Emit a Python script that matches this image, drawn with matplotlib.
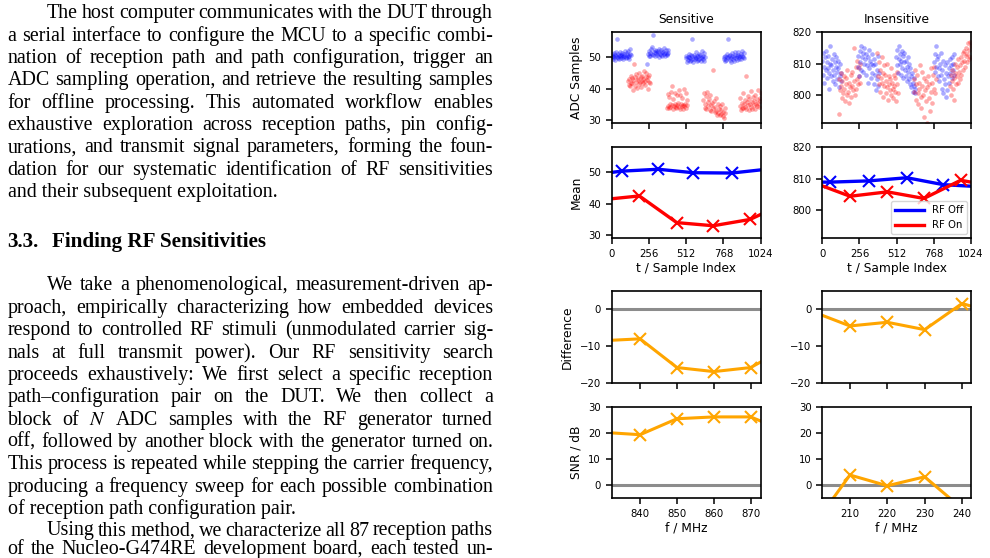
import numpy as np
import matplotlib.pyplot as plt
from matplotlib.lines import Line2D

W, H = 990, 558

# ---------------- page text (left column) ----------------
para1 = [
    "The host computer communicates with the DUT through",
    "a serial interface to configure the MCU to a specific combi-",
    "nation of reception path and path configuration, trigger an",
    "ADC sampling operation, and retrieve the resulting samples",
    "for offline processing. This automated workflow enables",
    "exhaustive exploration across reception paths, pin config-",
    "urations, and transmit signal parameters, forming the foun-",
    "dation for our systematic identification of RF sensitivities",
    "and their subsequent exploitation.",
]
heading = ["3.3.", "Finding RF Sensitivities"]
para2 = [
    "We take a phenomenological, measurement-driven ap-",
    "proach, empirically characterizing how embedded devices",
    "respond to controlled RF stimuli (unmodulated carrier sig-",
    "nals at full transmit power). Our RF sensitivity search",
    "proceeds exhaustively: We first select a specific reception",
    "path\u2013configuration pair on the DUT. We then collect a",
    "block of $N$ ADC samples with the RF generator turned",
    "off, followed by another block with the generator turned on.",
    "This process is repeated while stepping the carrier frequency,",
    "producing a frequency sweep for each possible combination",
    "of reception path configuration pair.",
]
para3 = [
    "Using this method, we characterize all 87 reception paths",
    "of the Nucleo-G474RE development board, each tested un-",
]

# ---------------- raw ADC samples, one list per block ----------------
off_spans = [(0, 130), (245, 390), (510, 640), (770, 910)]
on_spans = [(113, 263), (380, 520), (630, 780), (880, 1024)]

sens_off_blocks = [
    [50.2, 51.0, 49.6, 50.5, 51.3, 50.0, 49.3, 50.8, 51.6, 50.4, 56.0, 50.1, 49.8,
     51.2, 50.6, 49.5, 50.9, 51.8, 50.3, 49.9, 50.7, 51.4, 50.0, 49.4, 51.1, 50.5,
     52.0, 50.2, 49.7, 51.5, 50.8, 50.1, 51.9, 50.4, 49.6, 51.2, 52.6, 50.9],
    [48.0, 51.2, 50.6, 52.0, 51.5, 50.3, 52.8, 51.0, 53.2, 57.0, 50.9, 51.7, 52.4,
     50.5, 51.3, 52.1, 50.8, 51.9, 51.4, 50.2, 52.6, 51.1, 50.7, 52.3, 51.6, 50.4,
     51.8, 52.9, 51.2, 50.6, 51.5, 52.2, 50.9, 51.0, 52.5, 51.3],
    [49.8, 50.5, 48.6, 50.1, 49.3, 51.2, 50.0, 48.9, 49.7, 50.8, 49.2, 50.4, 56.0,
     49.6, 48.4, 50.9, 50.2, 49.5, 51.6, 49.9, 48.8, 50.6, 49.1, 50.3, 51.0, 49.4,
     50.7, 48.7, 49.9, 51.9, 50.2, 49.6, 50.5, 49.0, 51.3, 50.1],
    [49.5, 50.2, 48.8, 50.6, 49.1, 50.0, 51.0, 49.7, 56.0, 50.4, 49.3, 50.8, 48.6,
     49.9, 50.5, 51.3, 49.4, 50.1, 49.0, 50.7, 51.6, 49.8, 50.3, 49.2, 50.9, 51.8,
     50.0, 49.6, 50.4, 51.2, 49.5, 50.6, 52.0, 50.1, 49.9, 51.4],
]
sens_on_blocks = [
    [42.5, 43.1, 41.2, 40.8, 42.0, 44.0, 43.4, 41.7, 39.6, 42.8, 48.0, 43.7, 41.0,
     42.3, 44.6, 40.2, 42.9, 43.3, 41.5, 45.1, 42.1, 43.8, 40.6, 42.6, 44.2, 41.9,
     43.0, 45.8, 42.4, 41.3, 43.6, 44.9, 42.7, 40.0, 43.9, 42.2, 44.4, 41.8],
    [34.0, 38.2, 34.6, 33.8, 37.5, 35.0, 34.3, 39.1, 34.8, 41.0, 33.6, 36.8, 34.5,
     35.2, 38.6, 34.1, 33.9, 37.9, 34.7, 35.4, 39.6, 34.2, 33.7, 38.0, 35.1, 34.4,
     37.2, 34.9, 33.5, 39.9, 34.6, 35.3, 38.8, 34.0, 36.5, 34.8],
    [36.5, 38.8, 35.2, 34.0, 37.6, 33.5, 39.0, 35.8, 34.4, 36.9, 33.1, 38.1, 34.8,
     32.9, 35.5, 46.0, 33.8, 36.2, 32.5, 34.2, 37.0, 33.0, 31.8, 35.0, 32.4, 33.6,
     31.5, 34.6, 32.0, 33.2, 35.3, 31.2, 32.7, 30.8, 33.9, 32.2],
    [34.5, 37.0, 33.2, 35.6, 34.0, 38.5, 33.8, 35.1, 36.4, 34.3, 44.0, 33.5, 35.9,
     37.8, 34.7, 33.1, 36.8, 35.3, 34.1, 39.2, 33.7, 35.7, 37.4, 34.9, 36.0, 33.4,
     38.0, 35.0, 34.4, 36.6, 39.6, 35.5, 34.2, 37.2, 36.1, 38.6],
]
insens_off_blocks = [
    [811.0, 806.5, 813.5, 809.0, 804.0, 812.0, 808.0, 814.0, 810.5, 805.5, 808.5, 812.5,
     807.0, 802.0, 810.0, 815.5, 806.0, 809.5, 811.5, 804.5, 808.0, 813.0, 806.5, 810.5,
     803.5, 809.0, 812.0, 807.5, 805.0, 811.0, 808.5, 802.5, 806.0, 810.0, 804.5, 807.0],
    [809.0, 812.5, 806.0, 814.0, 810.5, 808.0, 815.5, 812.0, 807.5, 813.5, 810.0, 815.0,
     811.5, 806.5, 813.0, 809.5, 804.0, 812.0, 814.5, 808.5, 811.0, 805.5, 810.0, 813.0,
     807.0, 809.5, 803.5, 811.5, 806.5, 810.0, 801.5, 808.0, 805.0, 812.5, 803.0, 807.0],
    [812.0, 809.5, 814.5, 807.0, 811.5, 815.5, 810.0, 813.0, 806.5, 811.0, 814.0, 808.5,
     812.5, 805.5, 810.5, 813.5, 808.0, 806.0, 811.0, 809.0, 804.5, 812.0, 807.5, 805.0,
     810.0, 803.5, 808.5, 806.0, 802.5, 807.0, 804.0, 801.0, 805.5, 803.0, 800.5, 802.0],
    [810.5, 813.0, 807.5, 815.5, 809.0, 811.5, 806.0, 812.5, 808.5, 804.5, 810.0, 813.5,
     806.5, 802.0, 808.0, 811.0, 800.5, 805.0, 809.5, 803.5, 799.5, 807.0, 810.5, 801.5,
     806.0, 808.5, 804.0, 811.5, 807.0, 809.5, 812.0, 805.5, 810.0, 808.0, 813.0, 806.5],
]
insens_on_blocks = [
    [794.0, 805.0, 801.5, 807.0, 803.0, 799.0, 804.5, 800.5, 806.0, 802.0, 798.0, 805.5,
     803.5, 800.0, 808.0, 801.0, 797.5, 804.0, 802.5, 806.5, 799.5, 803.0, 807.5, 801.5,
     815.0, 804.5, 800.0, 809.0, 802.0, 805.0, 811.0, 803.5, 806.0, 808.5, 804.0, 810.0],
    [813.5, 806.0, 810.5, 803.5, 808.0, 801.0, 805.5, 812.0, 804.0, 799.5, 807.0, 803.0,
     809.5, 806.5, 800.5, 804.5, 810.0, 802.5, 798.5, 806.0, 803.5, 801.5, 805.0, 808.5,
     800.0, 804.0, 802.0, 799.0, 806.5, 803.0, 801.0, 805.5, 798.0, 803.5, 807.5, 800.5],
    [805.0, 801.0, 808.0, 803.5, 798.5, 806.5, 800.5, 797.0, 804.0, 802.0, 809.5, 799.5,
     796.0, 803.0, 807.5, 800.0, 793.0, 805.5, 801.5, 798.0, 804.5, 791.0, 802.5, 806.0,
     799.0, 803.5, 795.0, 808.5, 801.0, 804.0, 797.5, 806.5, 802.0, 809.0, 800.5, 805.0],
    [803.0, 806.5, 800.0, 804.5, 808.0, 802.0, 805.5, 798.5, 807.0, 810.0, 803.5, 806.0,
     809.0, 804.0, 811.5, 807.5, 805.0, 809.5, 812.0, 806.5, 810.5, 808.0, 813.5, 811.0,
     814.0, 809.0, 812.5, 815.0, 810.5, 813.0, 816.5, 811.5, 814.5, 812.0, 817.0, 815.5],
]

# ---------------- block means ----------------
sens_off_t = [0, 68, 320, 561, 825, 1024]
sens_off_mean = [50.0, 50.4, 51.0, 49.9, 49.8, 50.8]
sens_on_t = [0, 190, 447, 698, 950, 1024]
sens_on_mean = [41.6, 42.5, 34.0, 33.0, 35.0, 36.6]
insens_off_t = [0, 53, 322, 582, 833, 1024]
insens_off_mean = [808.9, 808.9, 809.3, 810.3, 808.1, 807.6]
insens_on_t = [0, 191, 448, 700, 953, 1024]
insens_on_mean = [807.7, 804.4, 805.8, 803.7, 809.5, 808.9]

# ---------------- frequency sweeps ----------------
sens_freq = [830, 840, 850, 860, 870, 880]
sens_diff = [-8.5, -8.0, -15.8, -16.9, -15.8, -10.2]
sens_snr = [20.2, 19.3, 25.4, 26.1, 26.1, 20.2]
insens_freq = [200, 210, 220, 230, 240, 250]
insens_diff = [-0.6, -4.5, -3.5, -5.5, 1.6, -1.3]
insens_snr = [-15.9, 3.9, -0.2, 3.2, -8.9, -12.0]

plt.rcParams.update({
    "font.family": "DejaVu Sans",
    "font.size": 7.3,
    "axes.labelsize": 8.8,
    "axes.titlesize": 8.8,
    "axes.linewidth": 1.2,
    "xtick.major.size": 4.2,
    "ytick.major.size": 4.2,
    "xtick.major.width": 1.1,
    "ytick.major.width": 1.1,
    "mathtext.fontset": "stix",
})

fig = plt.figure(figsize=(W / 100, H / 100), dpi=100)
renderer = fig.canvas.get_renderer()

SERIF = "Liberation Serif"
BODY = 14.4
LEFT, RIGHT, INDENT = 7.5, 493.0, 39.0
LEAD = 22.35


def fx(x):
    return x / W


def fy(y):
    return 1 - y / H


def text_line(line, y, x0, justify, **kw):
    words = line.split(" ")
    if not justify or len(words) == 1:
        fig.text(fx(x0), fy(y), line, va="baseline", ha="left", **kw)
        return
    objs = [fig.text(0, 0, w, va="baseline", ha="left", **kw) for w in words]
    widths = [o.get_window_extent(renderer).width for o in objs]
    gap = (RIGHT - x0 - sum(widths)) / (len(words) - 1)
    x = x0
    for o, w in zip(objs, widths):
        o.set_position((fx(x), fy(y)))
        x += w + gap


def paragraph(lines, y0, last_natural=True):
    for i, line in enumerate(lines):
        x0 = LEFT + INDENT if i == 0 else LEFT
        last = last_natural and i == len(lines) - 1
        text_line(line, y0 + i * LEAD, x0, not last, family=SERIF, fontsize=BODY)


paragraph(para1, 18.3)
fig.text(fx(LEFT), fy(246.7), heading[0], va="baseline", family=SERIF,
         fontsize=15.2, weight="bold")
fig.text(fx(51.5), fy(246.7), heading[1], va="baseline", family=SERIF,
         fontsize=15.2, weight="bold")
paragraph(para2, 290.5)
# last line sits right on the page edge in the scan; keep it just inside
text_line(para3[0], 535.5, LEFT + INDENT, True, family=SERIF, fontsize=BODY)
text_line(para3[1], 554.0, LEFT, True, family=SERIF, fontsize=BODY)


# ---------------- chart panels ----------------
rows = [(32.3, 123.3), (147.3, 238.3), (291.0, 383.0), (406.7, 498.3)]
cols = [(611.7, 760.7), (822.3, 971.0)]


def add_ax(r, c):
    top, bottom = rows[r]
    left, right = cols[c]
    return fig.add_axes([fx(left), fy(bottom), (right - left) / W, (bottom - top) / H])


axs = [[add_ax(r, c) for c in range(2)] for r in range(4)]

line_kw = dict(lw=2.4, marker="x", ms=9, mew=1.5, markevery=[1, 2, 3, 4])

panels = [
    (sens_off_blocks, sens_on_blocks, sens_off_t, sens_off_mean, sens_on_t, sens_on_mean,
     (29, 58), [30, 40, 50], sens_freq, sens_diff, sens_snr, (832.3, 872.7),
     [840, 850, 860, 870]),
    (insens_off_blocks, insens_on_blocks, insens_off_t, insens_off_mean, insens_on_t,
     insens_on_mean, (791, 820), [800, 810, 820], insens_freq, insens_diff, insens_snr,
     (202.6, 242.4), [210, 220, 230, 240]),
]

for c, (offb, onb, ot, om, nt, nm, ylim, yt, fr, df, snr, flim, ft) in enumerate(panels):
    ax = axs[0][c]
    for k in range(4):
        for spans, blocks, color in [(off_spans, offb, "blue"), (on_spans, onb, "red")]:
            a, b = spans[k]
            vals = blocks[k]
            ax.scatter(np.linspace(a, b, len(vals)), vals, s=11, color=color,
                       alpha=0.33, linewidths=0)
    ax.set_xlim(0, 1024)
    ax.set_xticks([0, 256, 512, 768, 1024])
    ax.tick_params(labelbottom=False)
    ax.set_ylim(*ylim)
    ax.set_yticks(yt)
    ax.set_title(["Sensitive", "Insensitive"][c], pad=7)

    ax = axs[1][c]
    ax.plot(ot, om, color="blue", **line_kw)
    ax.plot(nt, nm, color="red", **line_kw)
    ax.set_xlim(0, 1024)
    ax.set_xticks([0, 256, 512, 768, 1024])
    ax.set_ylim(*ylim)
    ax.set_yticks(yt)
    ax.set_xlabel("t / Sample Index", labelpad=2)

    ax = axs[2][c]
    ax.axhline(0, color="gray", lw=2.2, alpha=0.9)
    ax.plot(fr, df, color="orange", lw=2.2, marker="x", ms=9, mew=1.5)
    ax.set_xlim(*flim)
    ax.set_xticks(ft)
    ax.tick_params(labelbottom=False)
    ax.set_ylim(-20, 5)
    ax.set_yticks([-20, -10, 0])

    ax = axs[3][c]
    ax.axhline(0, color="gray", lw=2.2, alpha=0.9)
    ax.plot(fr, snr, color="orange", lw=2.2, marker="x", ms=9, mew=1.5)
    ax.set_xlim(*flim)
    ax.set_xticks(ft)
    ax.set_ylim(-5, 30)
    ax.set_yticks([0, 10, 20, 30])
    ax.set_xlabel("f / MHz", labelpad=2)

axs[0][0].set_ylabel("ADC Samples")
axs[1][0].set_ylabel("Mean")
axs[2][0].set_ylabel("Difference")
axs[3][0].set_ylabel("SNR / dB")

handles = [Line2D([], [], color="blue", lw=2.4), Line2D([], [], color="red", lw=2.4)]
axs[1][1].legend(handles, ["RF Off", "RF On"], loc="lower right", fontsize=7.3,
                 handlelength=2.8, borderaxespad=0.4, framealpha=0.8)

fig.savefig("out.png", dpi=100)
